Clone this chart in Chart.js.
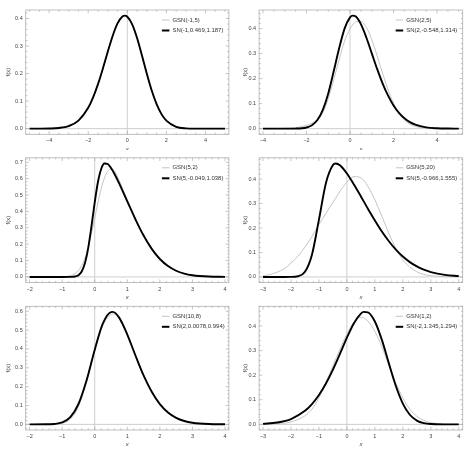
<!DOCTYPE html>
<html><head><meta charset="utf-8">
<script src="https://cdn.jsdelivr.net/npm/chart.js@4.4.0/dist/chart.umd.min.js"></script>
<style>
html,body{margin:0;padding:0;background:#fff;}
#wrap{position:relative;width:474px;height:451px;overflow:hidden;background:#fff;}
#wrap canvas{position:absolute;}
</style></head><body><div id="wrap"></div>
<script>
// ---------- data ----------
const p1X   = [-5,-4.5,-4,-3.5,-3,-2.5,-2,-1.75,-1.5,-1.25,-1,-0.75,-0.5,-0.25,-0.125,0,0.25,0.5,0.75,1,1.25,1.5,1.75,2,2.5,3,3.5,4,4.5,5];
const p1SN  = [0,0.0001,0.0006,0.0025,0.0094,0.0293,0.0759,0.1135,0.1616,0.2182,0.2789,0.3364,0.3819,0.4071,0.4102,0.4063,0.3788,0.3290,0.2656,0.1991,0.1382,0.0887,0.0527,0.0289,0.0068,0.0011,0.0001,0,0,0];
const p1GSN = [0,0.0001,0.0006,0.0025,0.0094,0.0293,0.0759,0.1135,0.1616,0.2182,0.2789,0.3364,0.3819,0.4071,0.4102,0.4063,0.3788,0.3290,0.2656,0.1991,0.1382,0.0887,0.0527,0.0289,0.0068,0.0011,0.0001,0,0,0];
const p1Labels = ['GSN(-1,5)','SN(-1,0.469,1.187)'];
const p1XTicks = [-4,-2,0,2,4];
const p1YTicks = [0,0.1,0.2,0.3,0.4];

const p2X   = [-4,-3.5,-3,-2.5,-2,-1.75,-1.5,-1.25,-1,-0.75,-0.5,-0.25,0,0.125,0.25,0.5,0.75,1,1.25,1.5,1.75,2,2.25,2.5,2.75,3,3.5,4,4.5,5];
const p2SN  = [0,0,0,0.0003,0.0045,0.0135,0.0344,0.0751,0.1406,0.2291,0.3211,0.3994,0.4441,0.4512,0.4484,0.4173,0.3638,0.3006,0.2374,0.1800,0.1316,0.0927,0.0629,0.0412,0.0260,0.0159,0.0053,0.0015,0.0004,0.0001];
const p2GSN = [0,0.0002,0.001,0.004,0.013,0.022,0.036,0.064,0.12,0.195,0.275,0.35,0.398,0.415,0.426,0.428,0.405,0.355,0.29,0.22,0.155,0.102,0.062,0.035,0.018,0.009,0.002,0.0003,0,0];
const p2Labels = ['GSN(2,5)','SN(2,-0.548,1.314)'];
const p2XTicks = [-4,-2,0,2,4];
const p2YTicks = [0,0.1,0.2,0.3,0.4];

const p3X   = [-2,-1.5,-1,-0.75,-0.6,-0.5,-0.4,-0.3,-0.2,-0.1,0,0.1,0.2,0.3,0.4,0.5,0.6,0.75,1,1.25,1.5,1.75,2,2.25,2.5,2.75,3,3.5,4];
const p3SN  = [0,0,0,0.0002,0.0027,0.0104,0.0330,0.0846,0.1776,0.3094,0.4556,0.5810,0.6608,0.6927,0.6893,0.6655,0.6318,0.5716,0.4613,0.3514,0.2525,0.1712,0.1095,0.0662,0.0377,0.0203,0.0103,0.0022,0.0004];
const p3GSN = [0,0,0.001,0.008,0.022,0.04,0.07,0.115,0.18,0.265,0.36,0.455,0.54,0.605,0.645,0.66,0.65,0.59,0.47,0.355,0.254,0.172,0.11,0.066,0.037,0.02,0.01,0.002,0.0003];
const p3Labels = ['GSN(5,2)','SN(5,-0.049,1.038)'];
const p3XTicks = [-2,-1,0,1,2,3,4];
const p3YTicks = [0,0.1,0.2,0.3,0.4,0.5,0.6,0.7];

const p4X   = [-3,-2.75,-2.5,-2.25,-2,-1.75,-1.5,-1.25,-1,-0.75,-0.5,-0.4,-0.25,0,0.25,0.5,0.75,1,1.25,1.5,1.75,2,2.25,2.5,2.75,3,3.5,4];
const p4SN  = [0,0,0,0,0.0002,0.0026,0.0208,0.0911,0.2342,0.3843,0.4577,0.4638,0.4566,0.4228,0.3778,0.3291,0.2791,0.2311,0.1859,0.1459,0.1117,0.0832,0.0605,0.0428,0.0295,0.0198,0.0083,0.0031];
const p4GSN = [0.005,0.01,0.019,0.033,0.057,0.085,0.122,0.165,0.215,0.26,0.305,0.322,0.35,0.387,0.41,0.405,0.37,0.315,0.248,0.178,0.116,0.07,0.04,0.021,0.01,0.005,0.001,0];
const p4Labels = ['GSN(5,20)','SN(5,-0.966,1.555)'];
const p4XTicks = [-3,-2,-1,0,1,2,3,4];
const p4YTicks = [0,0.1,0.2,0.3,0.4];

const p5X   = [-2,-1.5,-1.25,-1,-0.75,-0.5,-0.25,0,0.25,0.5,0.55,0.75,1,1.25,1.5,1.75,2,2.25,2.5,2.75,3,3.5,4];
const p5SN  = [0,0.0003,0.0021,0.0102,0.0382,0.1081,0.2343,0.3963,0.5354,0.5958,0.5966,0.5663,0.4763,0.3655,0.2598,0.1732,0.1077,0.0630,0.0346,0.0179,0.0087,0.0017,0.0003];
const p5GSN = [0,0.0001,0.001,0.006,0.028,0.094,0.225,0.39,0.525,0.583,0.586,0.562,0.476,0.366,0.26,0.173,0.108,0.063,0.035,0.018,0.0088,0.0017,0.0003];
const p5Labels = ['GSN(10,8)','SN(2,0.0078,0.994)'];
const p5XTicks = [-2,-1,0,1,2,3,4];
const p5YTicks = [0,0.1,0.2,0.3,0.4,0.5,0.6];

const p6X   = [-3,-2.5,-2,-1.5,-1.25,-1,-0.75,-0.5,-0.25,0,0.25,0.5,0.6,0.75,1,1.25,1.5,1.75,2,2.25,2.5,2.75,3,3.5,4];
const p6SN  = [0.0022,0.0075,0.0218,0.0550,0.0826,0.1194,0.1662,0.2226,0.2864,0.3525,0.4115,0.4505,0.4572,0.4555,0.4183,0.3434,0.2481,0.1560,0.0845,0.0391,0.0154,0.0051,0.0014,0.0001,0];
const p6GSN = [0.001,0.003,0.01,0.035,0.062,0.108,0.17,0.238,0.305,0.368,0.415,0.436,0.433,0.42,0.378,0.315,0.24,0.168,0.107,0.062,0.033,0.016,0.007,0.001,0];
const p6Labels = ['GSN(1,2)','SN(-2,1.345,1.294)'];
const p6XTicks = [-3,-2,-1,0,1,2,3,4];
const p6YTicks = [0,0.1,0.2,0.3,0.4];

// ---------- layout ----------
const FONT = '"Liberation Sans", Arial, sans-serif';
const GRAY = '#c4c4c4';
const cells = [
  {xs:p1X, gsn:p1GSN, sn:p1SN, labels:p1Labels, xt:p1XTicks, yt:p1YTicks, col:0, row:0},
  {xs:p2X, gsn:p2GSN, sn:p2SN, labels:p2Labels, xt:p2XTicks, yt:p2YTicks, col:1, row:0},
  {xs:p3X, gsn:p3GSN, sn:p3SN, labels:p3Labels, xt:p3XTicks, yt:p3YTicks, col:0, row:1},
  {xs:p4X, gsn:p4GSN, sn:p4SN, labels:p4Labels, xt:p4XTicks, yt:p4YTicks, col:1, row:1},
  {xs:p5X, gsn:p5GSN, sn:p5SN, labels:p5Labels, xt:p5XTicks, yt:p5YTicks, col:0, row:2},
  {xs:p6X, gsn:p6GSN, sn:p6SN, labels:p6Labels, xt:p6XTicks, yt:p6YTicks, col:1, row:2}
];
const colGeo = [{left:0,w:237,fl:25.7,fr:228.9},{left:237,w:237,fl:259.1,fr:462.7}];
const rowGeo = [{top:0,h:150,ft:10,fb:134.3},{top:150,h:150,ft:157.8,fb:282.6},{top:300,h:151,ft:305.6,fb:430.0}];

const minus = v => (v < 0 ? '\u2212' + Math.abs(v) : String(v));

const framePlugin = {
  id: 'mmaFrame',
  beforeDatasetsDraw(chart) {
    const {ctx, chartArea: a, scales: {x, y}} = chart;
    ctx.save();
    ctx.strokeStyle = '#cfcfcf';
    ctx.lineWidth = 1;
    const x0 = x.getPixelForValue(0), y0 = y.getPixelForValue(0);
    ctx.beginPath();
    ctx.moveTo(x0, a.top); ctx.lineTo(x0, a.bottom);
    ctx.moveTo(a.left, y0); ctx.lineTo(a.right, y0);
    ctx.stroke();
    ctx.restore();
  },
  afterDraw(chart) {
    const {ctx, chartArea: a, scales: {x, y}} = chart;
    const cfg = chart.config.options.plugins.mmaFrame;
    ctx.save();
    ctx.strokeStyle = '#b0b0b0';
    ctx.lineWidth = 0.8;
    ctx.strokeRect(a.left, a.top, a.right - a.left, a.bottom - a.top);
    const drawTicks = (scale, majors, horiz) => {
      const step = majors[1] - majors[0];
      const minor = Math.abs(step - 2) < 1e-9 ? 0.5 : step / 5;
      const lo = Math.ceil(scale.min / minor - 1e-9), hi = Math.floor(scale.max / minor + 1e-9);
      ctx.beginPath();
      for (let k = lo; k <= hi; k++) {
        const v = k * minor;
        const isMajor = majors.some(m => Math.abs(m - v) < 1e-9);
        const len = isMajor ? 3.2 : 1.7;
        const p = scale.getPixelForValue(v);
        if (horiz) {
          ctx.moveTo(p, a.bottom); ctx.lineTo(p, a.bottom - len);
          ctx.moveTo(p, a.top); ctx.lineTo(p, a.top + len);
        } else {
          ctx.moveTo(a.left, p); ctx.lineTo(a.left + len, p);
          ctx.moveTo(a.right, p); ctx.lineTo(a.right - len, p);
        }
      }
      ctx.stroke();
    };
    ctx.strokeStyle = '#a0a0a0';
    ctx.lineWidth = 0.6;
    drawTicks(x, cfg.xt, true);
    drawTicks(y, cfg.yt, false);
    // legend
    const lx0 = a.right - 67, lx1 = a.right - 59.5, tx = a.right - 56.5;
    const ly = [a.top + 10, a.top + 20.5];
    ctx.lineWidth = 1; ctx.strokeStyle = GRAY;
    ctx.beginPath(); ctx.moveTo(lx0, ly[0]); ctx.lineTo(lx1, ly[0]); ctx.stroke();
    ctx.lineWidth = 2; ctx.strokeStyle = '#000';
    ctx.beginPath(); ctx.moveTo(lx0, ly[1]); ctx.lineTo(lx1, ly[1]); ctx.stroke();
    ctx.fillStyle = '#333';
    ctx.font = '6px ' + FONT;
    ctx.textAlign = 'left';
    ctx.textBaseline = 'middle';
    ctx.fillText(cfg.labels[0], tx, ly[0]);
    ctx.fillText(cfg.labels[1], tx, ly[1]);
    ctx.restore();
  }
};

const wrap = document.getElementById('wrap');
cells.forEach(c => {
  const cg = colGeo[c.col], rg = rowGeo[c.row];
  const cv = document.createElement('canvas');
  cv.width = cg.w; cv.height = rg.h;
  cv.style.left = cg.left + 'px'; cv.style.top = rg.top + 'px';
  cv.style.width = cg.w + 'px'; cv.style.height = rg.h + 'px';
  wrap.appendChild(cv);

  const yW = cg.fl - cg.left;
  const padR = cg.left + cg.w - cg.fr;
  const padT = rg.ft - rg.top;
  const xH = rg.top + rg.h - rg.fb;
  const xmin = Math.min(...c.xs), xmax = Math.max(...c.xs), xpad = (xmax - xmin) * 0.02;
  const ymax = Math.max(...c.sn, ...c.gsn), ypad = ymax * 0.05;
  const titleLH = 6 * 1.2;
  const xTitleMid = rg.fb + 14.7 - rg.top;
  const xTitlePadB = (rg.h - xTitleMid) - titleLH / 2;

  new Chart(cv, {
    type: 'line',
    data: {
      datasets: [
        {label: c.labels[1], data: c.sn.map((v, i) => ({x: c.xs[i], y: v})), borderColor: '#000', borderWidth: 1.9,
         pointRadius: 0, cubicInterpolationMode: 'monotone', fill: false, order: 0},
        {label: c.labels[0], data: c.gsn.map((v, i) => ({x: c.xs[i], y: v})), borderColor: GRAY, borderWidth: 1,
         pointRadius: 0, cubicInterpolationMode: 'monotone', fill: false, order: 1}
      ]
    },
    options: {
      responsive: false, animation: false, devicePixelRatio: 1,
      events: [],
      layout: {padding: {left: 0, right: padR, top: padT, bottom: 0}},
      plugins: {legend: {display: false}, tooltip: {enabled: false},
                mmaFrame: {labels: c.labels, xt: c.xt, yt: c.yt}},
      scales: {
        x: {
          type: 'linear', min: xmin - xpad, max: xmax + xpad,
          grid: {display: false, drawTicks: false}, border: {display: false},
          afterBuildTicks: s => { s.ticks = c.xt.map(v => ({value: v})); },
          afterFit: s => { s.height = xH; },
          ticks: {autoSkip: false, maxRotation: 0, padding: 3.3, color: '#444',
                  font: {family: FONT, size: 5.5}, callback: v => minus(v)},
          title: {display: true, text: 'x', color: '#444', font: {family: FONT, size: 6, style: 'italic'},
                  padding: {top: 0, bottom: xTitlePadB}}
        },
        y: {
          type: 'linear', min: -ypad, max: ymax + ypad,
          grid: {display: false, drawTicks: false}, border: {display: false},
          afterBuildTicks: s => { s.ticks = c.yt.map(v => ({value: v})); },
          afterFit: s => { s.width = yW; },
          ticks: {autoSkip: false, padding: 3, color: '#444',
                  font: {family: FONT, size: 5.5}, callback: v => v.toFixed(1)},
          title: {display: true, text: 'f(x)', color: '#444', font: {family: FONT, size: 6},
                  padding: {top: 4.9, bottom: 0}}
        }
      }
    },
    plugins: [framePlugin]
  });
});
</script></body></html>
